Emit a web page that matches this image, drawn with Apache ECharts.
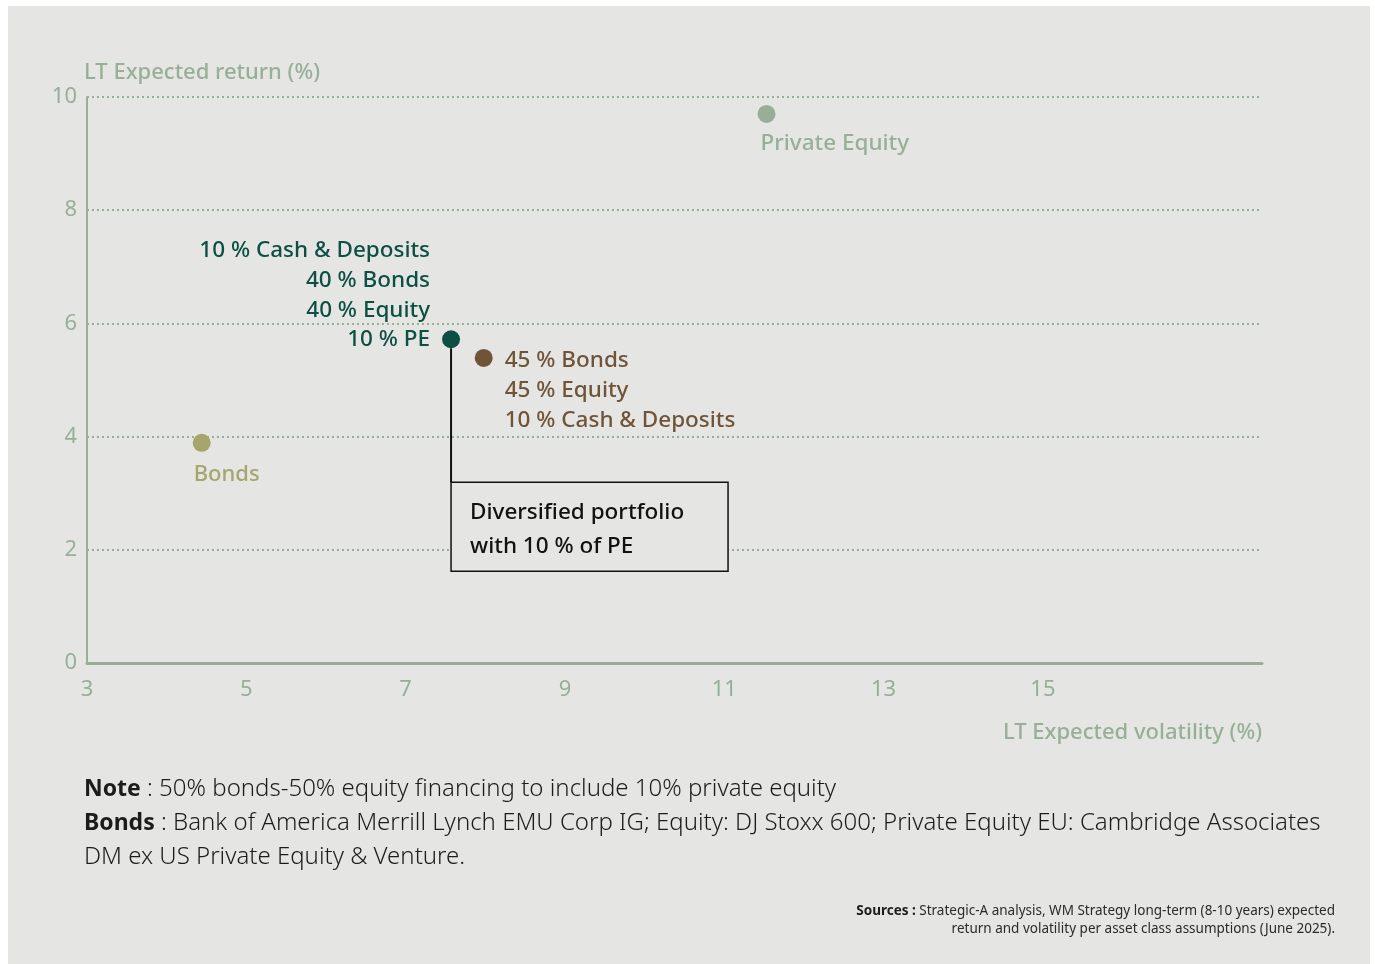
<!DOCTYPE html>
<html>
<head>
<meta charset="utf-8">
<script src="https://cdn.jsdelivr.net/npm/echarts@6/dist/echarts.min.js"></script>
<style>
  html, body { margin: 0; padding: 0; background: #ffffff; }
  #wrap { position: relative; width: 1375px; height: 964px; background: #ffffff; }
  #panel { position: absolute; left: 8px; top: 6px; width: 1362px; height: 958px; background: #e5e6e4; }
  #chart { position: absolute; left: 0; top: 0; width: 1375px; height: 964px; }
</style>
</head>
<body>
<div id="wrap"><div id="panel"></div><div id="chart"></div></div>
<script>
// ---- data ----
const xTicks = [3, 5, 7, 9, 11, 13, 15];
const yTicks = [0, 2, 4, 6, 8, 10];
const bondsPoint = [4.44, 3.89];
const diversifiedPoint = [7.57, 5.72];
const balancedPoint = [7.98, 5.39];
const pePoint = [11.53, 9.7];
const labelBonds = 'Bonds';
const labelPE = 'Private Equity';
const labelDiversified = ['10 % Cash & Deposits', '40 % Bonds', '40 % Equity', '10 % PE'];
const labelBalanced = ['45 % Bonds', '45 % Equity', '10 % Cash & Deposits'];
const boxText = ['Diversified portfolio', 'with 10 % of PE'];
const yAxisTitle = 'LT Expected return (%)';
const xAxisTitle = 'LT Expected volatility (%)';
const noteLines = [
  ['Note', ' : 50% bonds-50% equity financing to include 10% private equity'],
  ['Bonds', ' : Bank of America Merrill Lynch EMU Corp IG; Equity: DJ Stoxx 600; Private Equity EU: Cambridge Associates'],
  ['', 'DM ex US Private Equity & Venture.']
];
const sourceLines = [
  ['Sources :', ' Strategic-A analysis, WM Strategy long-term (8-10 years) expected'],
  ['', 'return and volatility per asset class assumptions (June 2025).']
];

const FONT = '"Noto Sans", "Open Sans", sans-serif';
const SAGE = '#98af97';
const DARK = '#0e4f43';
const BROWN = '#6f5437';
const OLIVE = '#a4a66c';
const PANEL = '#e5e6e4';

const chart = echarts.init(document.getElementById('chart'), null, { renderer: 'canvas' });

function pointSeries(name, pt, color, label) {
  return {
    name: name, type: 'scatter', symbol: 'circle', symbolSize: 18,
    data: [pt], itemStyle: { color: color, opacity: 1 },
    label: label, emphasis: { disabled: true }, silent: true, z: 5
  };
}

const option = {
  animation: false,
  backgroundColor: 'transparent',
  grid: { left: 87, right: 113, top: 97, bottom: 301, containLabel: false },
  xAxis: {
    type: 'value', min: 3, max: 17.75, interval: 2,
    axisLine: { show: true, lineStyle: { color: SAGE, width: 3 } },
    axisTick: { show: false },
    splitLine: { show: false },
    axisLabel: {
      color: SAGE, fontFamily: FONT, fontSize: 22, margin: 16,
      showMaxLabel: false,
      formatter: v => (xTicks.indexOf(v) >= 0 ? String(v) : '')
    }
  },
  yAxis: {
    type: 'value', min: 0, max: 10, interval: 2,
    axisLine: { show: true, lineStyle: { color: SAGE, width: 2 } },
    axisTick: { show: false },
    splitLine: { show: true, lineStyle: { color: SAGE, width: 2, type: [2, 3] } },
    axisLabel: {
      color: SAGE, fontFamily: FONT, fontSize: 22, margin: 10,
      formatter: v => (yTicks.indexOf(v) >= 0 ? String(v) : '')
    }
  },
  series: [
    pointSeries('Bonds', bondsPoint, OLIVE, {
      show: true, formatter: labelBonds, position: [1, 41], align: 'left', verticalAlign: 'middle',
      color: OLIVE, fontFamily: FONT, fontSize: 22, fontWeight: 500
    }),
    pointSeries('Private Equity', pePoint, SAGE, {
      show: true, formatter: labelPE, position: [3, 39], align: 'left', verticalAlign: 'middle',
      color: SAGE, fontFamily: FONT, fontSize: 22.5, fontWeight: 500
    }),
    pointSeries('Balanced', balancedPoint, BROWN, {
      show: true, formatter: labelBalanced.join('\n'), position: [30, 42], align: 'left', verticalAlign: 'middle',
      color: BROWN, fontFamily: FONT, fontSize: 22.5, fontWeight: 500, lineHeight: 30
    }),
    pointSeries('Diversified', diversifiedPoint, DARK, {
      show: true, formatter: labelDiversified.join('\n'), position: [-12, -35], align: 'right', verticalAlign: 'middle',
      color: DARK, fontFamily: FONT, fontSize: 22.5, fontWeight: 500, lineHeight: 29.7
    })
  ]
};
chart.setOption(option);

// annotation box anchored to the diversified point
const p = chart.convertToPixel({ gridIndex: 0 }, diversifiedPoint);
const boxTop = p[1] + 143, boxH = 89, boxW = 277;

function richLine(parts) {
  return (parts[0] ? '{b|' + parts[0] + '}' : '') + parts[1];
}

const graphics = [
  { type: 'line', silent: true, z: 3,
    shape: { x1: p[0], y1: p[1] + 9, x2: p[0], y2: boxTop },
    style: { stroke: '#111111', lineWidth: 2 } },
  { type: 'rect', silent: true, z: 3,
    shape: { x: p[0], y: boxTop, width: boxW, height: boxH },
    style: { fill: PANEL, stroke: '#111111', lineWidth: 1.5 } },
  { type: 'text', silent: true, z: 4, left: p[0] + 19, top: boxTop + 13,
    style: { text: boxText.join('\n'), fill: '#111111', font: '500 22.5px ' + FONT, lineHeight: 34 } },
  { type: 'text', silent: true, left: 84, top: 62,
    style: { text: yAxisTitle, fill: SAGE, font: '500 22px ' + FONT } },
  { type: 'text', silent: true, right: 113, top: 722,
    style: { text: xAxisTitle, fill: SAGE, font: '500 22px ' + FONT, align: 'right' } }
];
noteLines.forEach((ln, i) => {
  graphics.push({ type: 'text', silent: true, left: 84, top: 777 + i * 34,
    style: {
      text: richLine(ln), fill: '#1c1c1c', font: '300 24px ' + FONT,
      rich: { b: { fontFamily: FONT, fontWeight: 700, fontSize: 23, fill: '#1c1c1c' } }
    } });
});
sourceLines.forEach((ln, i) => {
  graphics.push({ type: 'text', silent: true, right: 40, top: 904 + i * 18,
    style: {
      text: richLine(ln), fill: '#2a2a2a', font: '13.5px ' + FONT, align: 'right',
      rich: { b: { fontFamily: FONT, fontWeight: 700, fontSize: 13.5, fill: '#1c1c1c' } }
    } });
});
chart.setOption({ graphic: graphics });
</script>
</body>
</html>
